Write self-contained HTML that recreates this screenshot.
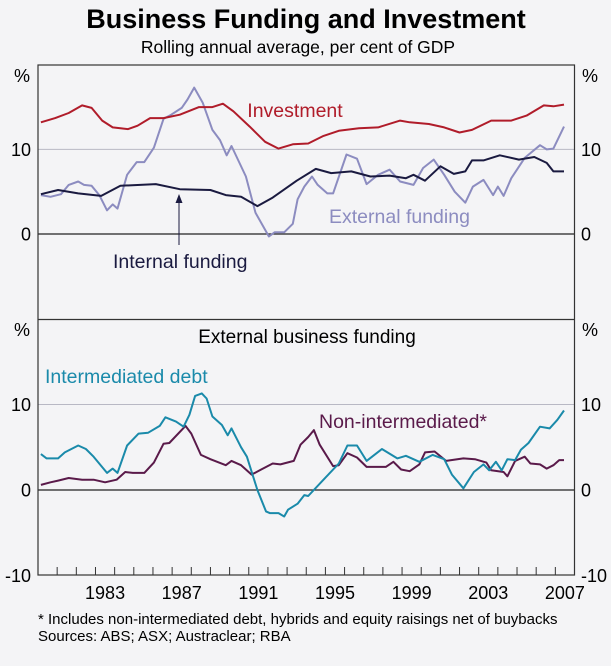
<!DOCTYPE html>
<html><head><meta charset="utf-8"><style>
body{margin:0;background:#f4f4f6;font-family:"Liberation Sans",sans-serif;}
svg{display:block}
</style></head><body>
<svg id="c" width="611" height="666" xmlns="http://www.w3.org/2000/svg">
<rect width="611" height="666" fill="#f4f4f6"/>
<text x="306" y="28" text-anchor="middle" font-size="27" font-weight="bold" fill="#000">Business Funding and Investment</text>
<text x="298" y="53" text-anchor="middle" font-size="17.5" fill="#000">Rolling annual average, per cent of GDP</text>
<g id="grid"></g>
<g id="series"></g>
<g id="axes"></g>
<text x="295" y="117" text-anchor="middle" font-size="19.5" fill="#b01c2a">Investment</text>
<text x="329" y="223" font-size="19.5" fill="#8c8cc0">External funding</text>
<text x="113" y="268" font-size="19.5" fill="#1a1a40">Internal funding</text>
<line x1="179" y1="245" x2="179" y2="200" stroke="#1a1a40" stroke-width="1"/>
<polygon points="179,194 175.5,203 182.5,203" fill="#1a1a40"/>
<text x="307" y="343" text-anchor="middle" font-size="19" fill="#000">External business funding</text>
<text x="45" y="383" font-size="19.5" fill="#1a8aaa">Intermediated debt</text>
<text x="319" y="428" font-size="19.5" fill="#5a1a4a">Non-intermediated*</text>
<text x="38" y="624" font-size="15" fill="#000">*   Includes non-intermediated debt, hybrids and equity raisings net of buybacks</text>
<text x="38" y="641" font-size="15" fill="#000">Sources: ABS; ASX; Austraclear; RBA</text>
</svg>
<script>
const invYears=[1980.15,1980.9,1981.6,1982.3,1982.8,1983.35,1983.9,1984.7,1985.2,1985.85,1986.55,1987.4,1988.4,1989.1,1989.65,1990.2,1991.05,1991.85,1992.55,1993.3,1994.1,1994.9,1995.7,1996.75,1997.75,1998.9,1999.4,2000.4,2001.2,2002.0,2002.65,2003.65,2004.7,2005.5,2006.4,2006.9,2007.45];
const invValues=[13.2,13.7,14.3,15.2,14.9,13.4,12.6,12.4,12.8,13.7,13.7,14.1,15.0,15.0,15.4,14.5,12.7,10.9,10.1,10.6,10.7,11.6,12.2,12.5,12.6,13.4,13.2,13.0,12.6,12.0,12.3,13.4,13.4,14.0,15.2,15.1,15.3];
const intYears=[1980.15,1981.05,1982.1,1983.3,1984.3,1986.15,1987.4,1989.0,1989.8,1990.6,1991.45,1992.25,1993.5,1994.5,1995.3,1996.35,1997.35,1998.35,1999.2,1999.6,2000.2,2001.0,2001.7,2002.3,2002.65,2003.25,2004.1,2005.1,2005.9,2006.55,2006.9,2007.45];
const intValues=[4.7,5.2,4.8,4.5,5.7,5.9,5.3,5.2,4.6,4.4,3.3,4.3,6.3,7.7,7.2,7.4,6.8,6.9,6.6,7.0,6.3,8.0,7.1,7.4,8.7,8.7,9.3,8.8,9.1,8.4,7.4,7.4];
const extYears=[1980.15,1980.65,1981.2,1981.6,1982.1,1982.4,1982.8,1983.2,1983.6,1983.9,1984.15,1984.65,1985.15,1985.55,1986.05,1986.55,1986.95,1987.5,1987.8,1988.15,1988.6,1989.1,1989.5,1989.85,1990.1,1990.85,1991.35,1992.05,1992.35,1992.85,1993.3,1993.55,1993.9,1994.3,1994.6,1995.1,1995.4,1996.1,1996.65,1997.15,1997.75,1998.35,1998.9,1999.6,2000.1,2000.65,2001.2,2001.75,2002.3,2002.7,2003.25,2003.75,2004.0,2004.3,2004.7,2005.4,2006.2,2006.55,2006.9,2007.45];
const extValues=[4.6,4.4,4.7,5.8,6.2,5.8,5.7,4.6,2.8,3.5,3.0,7.0,8.5,8.5,10.2,13.6,14.1,14.9,15.9,17.3,15.5,12.3,11.1,9.3,10.4,6.8,2.5,-0.3,0.2,0.2,1.2,4.1,5.6,6.8,5.8,4.8,4.8,9.4,8.9,5.9,7.0,7.6,6.2,5.8,7.8,8.8,7.0,5.0,3.7,5.6,6.4,4.6,5.6,4.5,6.6,9.0,10.5,10.0,10.1,12.7];
const debtYears=[1980.15,1980.45,1981.05,1981.4,1982.1,1982.5,1982.9,1983.6,1983.9,1984.15,1984.65,1985.25,1985.75,1986.35,1986.65,1987.2,1987.6,1987.9,1988.2,1988.55,1988.8,1989.1,1989.6,1989.9,1990.1,1990.6,1990.9,1991.45,1991.9,1992.1,1992.55,1992.85,1993.05,1993.55,1993.9,1994.1,1994.9,1995.7,1996.15,1996.65,1997.15,1997.95,1998.75,1999.2,1999.9,2000.6,2001.2,2001.6,2002.2,2002.75,2003.25,2003.55,2003.9,2004.2,2004.5,2004.9,2005.2,2005.6,2006.2,2006.7,2007.1,2007.45];
const debtValues=[4.2,3.7,3.7,4.4,5.2,4.8,3.9,2.0,2.5,2.0,5.2,6.6,6.7,7.5,8.5,8.0,7.4,8.8,11.0,11.3,10.7,8.6,7.6,6.4,7.2,5.0,3.9,0,-2.5,-2.7,-2.7,-3.1,-2.3,-1.6,-0.6,-0.7,1.2,3.1,5.2,5.2,3.4,4.8,3.7,4.0,3.3,4.1,3.6,1.8,0.2,2.1,3.0,2.3,3.3,2.3,3.6,3.5,4.7,5.5,7.4,7.2,8.2,9.3];
const nonYears=[1980.15,1980.65,1981.05,1981.6,1982.3,1982.9,1983.5,1984.1,1984.55,1984.95,1985.55,1986.05,1986.55,1986.85,1987.7,1988.0,1988.5,1989.0,1989.8,1990.1,1990.6,1991.15,1991.65,1992.25,1992.65,1993.35,1993.7,1994.1,1994.4,1994.7,1995.4,1995.7,1996.15,1996.65,1997.15,1998.15,1998.55,1998.95,1999.4,1999.9,2000.2,2000.7,2001.3,2002.2,2002.8,2003.4,2003.65,2004.3,2004.5,2004.9,2005.4,2005.7,2006.2,2006.55,2006.9,2007.2,2007.45];
const nonValues=[0.6,0.9,1.1,1.4,1.2,1.2,0.9,1.2,2.1,2.0,2.0,3.2,5.4,5.5,7.5,6.6,4.1,3.6,2.9,3.4,2.9,1.8,2.4,3.1,3.0,3.4,5.3,6.2,7.0,5.3,2.8,2.9,4.3,3.8,2.7,2.7,3.3,2.4,2.2,3.0,4.4,4.5,3.4,3.7,3.6,3.2,2.3,2.1,1.6,3.4,3.9,3.1,3.0,2.5,2.9,3.5,3.5];
const topTicks=[0,10];
const botTicks=[-10,0,10];
const xTickLabels=[1983,1987,1991,1995,1999,2003,2007];

const NS='http://www.w3.org/2000/svg';
const L=38,R=574.5;
const x=y=>L+(y-1980)/(2008-1980)*(R-L);
const topY=v=>234-v*8.46;
const botY=v=>490-v*8.55;
function mk(tag,attrs,parent){const e=document.createElementNS(NS,tag);for(const k in attrs)e.setAttribute(k,attrs[k]);document.getElementById(parent).appendChild(e);return e;}
[[topY,'top'],[botY,'bottom']].forEach(([f,p])=>{
  let g=mk('line',{x1:L,x2:R,y1:f(10),y2:f(10),stroke:'#b8b8c4','stroke-width':1},'grid');
  
  
  let z=mk('line',{x1:L,x2:R,y1:f(0),y2:f(0),stroke:'#222','stroke-width':1.2},'grid');
  
  
});
function line(xs,vs,f,color,name){
  const d=xs.map((yr,i)=>(i?'L':'M')+x(yr).toFixed(1)+','+f(vs[i]).toFixed(1)).join('');
  const p=mk('path',{d:d,fill:'none',stroke:color,'stroke-width':2,'stroke-linejoin':'round'},'series');
  
  
}
line(extYears,extValues,topY,'#8c8cc0','external-funding-line');
line(intYears,intValues,topY,'#1a1a40','internal-funding-line');
line(invYears,invValues,topY,'#b01c2a','investment-line');
line(nonYears,nonValues,botY,'#5a1a4a','non-intermediated-line');
line(debtYears,debtValues,botY,'#1a8aaa','intermediated-debt-line');
const fr=mk('rect',{x:L,y:65,width:R-L,height:510,fill:'none',stroke:'#333','stroke-width':1.2},'axes');


const dv=mk('line',{x1:L,x2:R,y1:319.5,y2:319.5,stroke:'#333','stroke-width':1.2},'axes');


for(let yr=1981;yr<=2007;yr++){
  const t=mk('line',{x1:x(yr),x2:x(yr),y1:575,y2:567,stroke:'#333','stroke-width':1},'axes');
  
  
}
xTickLabels.forEach(yr=>{
  const t=mk('text',{x:x(yr+0.5),y:599,'text-anchor':'middle','font-size':18,fill:'#000'},'axes');
  t.textContent=yr;
  
  
});
[[topY,'top',topTicks],[botY,'bottom',botTicks]].forEach(([f,p,ticks])=>{
  ticks.forEach(v=>{
    const a=mk('text',{x:31,y:f(v)+6.5,'text-anchor':'end','font-size':18,fill:'#000'},'axes');
    a.textContent=v;
    
    
    const b=mk('text',{x:581,y:f(v)+6.5,'text-anchor':'start','font-size':18,fill:'#000'},'axes');
    b.textContent=v;
    
    
  });
});
[[82,'top'],[336,'bottom']].forEach(([yy,p])=>{
  const a=mk('text',{x:22,y:yy,'text-anchor':'middle','font-size':18,fill:'#000'},'axes');
  a.textContent='%';
  
  
  const b=mk('text',{x:590,y:yy,'text-anchor':'middle','font-size':18,fill:'#000'},'axes');
  b.textContent='%';
  
  
});
</script>
</body></html>
